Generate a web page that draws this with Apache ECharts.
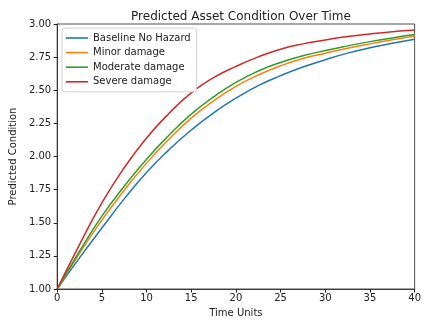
<!DOCTYPE html>
<html>
<head>
<meta charset="utf-8">
<script src="https://cdn.jsdelivr.net/npm/echarts@6/dist/echarts.min.js"></script>
<style>
  html, body { margin: 0; padding: 0; background: #fff; }
  #chart { width: 424px; height: 323px; }
</style>
</head>
<body>
<div id="chart"></div>
<script>
// values
const timeUnits = [0, 2.5, 5, 7.5, 10, 12.5, 15, 17.5, 20, 22.5, 25, 27.5, 30, 32.5, 35, 37.5, 40];
const baseline = [1.00, 1.235, 1.46, 1.68, 1.88, 2.05, 2.20, 2.33, 2.44, 2.535, 2.61, 2.675, 2.73, 2.78, 2.82, 2.855, 2.885];
const minor    = [1.00, 1.27, 1.52, 1.745, 1.95, 2.13, 2.29, 2.42, 2.53, 2.615, 2.685, 2.74, 2.78, 2.817, 2.85, 2.881, 2.91];
const moderate = [1.00, 1.285, 1.55, 1.775, 1.98, 2.16, 2.32, 2.45, 2.56, 2.645, 2.71, 2.76, 2.80, 2.835, 2.867, 2.895, 2.92];
const severe   = [1.00, 1.335, 1.65, 1.915, 2.14, 2.325, 2.48, 2.595, 2.68, 2.752, 2.81, 2.85, 2.88, 2.905, 2.925, 2.942, 2.955];

const seriesNames = ['Baseline No Hazard', 'Minor damage', 'Moderate damage', 'Severe damage'];
const seriesColors = ['#1f77b4', '#ff7f0e', '#2ca02c', '#d62728'];
const seriesValues = [baseline, minor, moderate, severe];

const font = 'DejaVu Sans';

let chart = echarts.init(document.getElementById('chart'));

let option = {
    animation: false,
    title: {
        text: 'Predicted Asset Condition Over Time',
        left: 236,
        textAlign: 'center',
        top: 6,
        textStyle: { fontFamily: font, fontSize: 12, fontWeight: 'normal', color: '#222' }
    },
    legend: {
        orient: 'vertical',
        left: 62,
        top: 28,
        padding: [5, 6, 5, 4],
        itemGap: 4.6,
        itemWidth: 22,
        itemHeight: 1.6,
        icon: 'rect',
        backgroundColor: '#fff',
        borderColor: '#d0d0d0',
        borderWidth: 1,
        borderRadius: 3,
        textStyle: { fontFamily: font, fontSize: 10, color: '#222', lineHeight: 10 },
        data: seriesNames
    },
    grid: {
        left: 57, right: 9, top: 24, bottom: 31,
        show: true,
        borderColor: '#222',
        borderWidth: 0.8,
        containLabel: false
    },
    xAxis: {
        type: 'value',
        min: 0, max: 40, interval: 5,
        name: 'Time Units',
        nameLocation: 'middle',
        nameGap: 19,
        nameTextStyle: { fontFamily: font, fontSize: 10, color: '#222' },
        splitLine: { show: false },
        axisLine: { lineStyle: { color: '#222', width: 0.8 } },
        axisTick: { length: 3.5, lineStyle: { color: '#222' } },
        axisLabel: { margin: 4, fontFamily: font, fontSize: 10, color: '#222' }
    },
    yAxis: {
        type: 'value',
        min: 1, max: 3, interval: 0.25,
        name: 'Predicted Condition',
        nameLocation: 'middle',
        nameGap: 36,
        nameTextStyle: { fontFamily: font, fontSize: 10, color: '#222' },
        splitLine: { show: false },
        axisLine: { show: true, lineStyle: { color: '#222', width: 0.8 } },
        axisTick: { show: true, length: 3.5, lineStyle: { color: '#222' } },
        axisLabel: {
            margin: 6, fontFamily: font, fontSize: 10, color: '#222',
            formatter: function (v) { return v.toFixed(2); }
        }
    },
    series: seriesNames.map(function (name, i) {
        return {
            name: name,
            type: 'line',
            smooth: 0.5,
            symbol: 'none',
            color: seriesColors[i],
            lineStyle: { width: 1.5 },
            data: timeUnits.map(function (t, j) { return [t, seriesValues[i][j]]; })
        };
    })
};

chart.setOption(option);
</script>
</body>
</html>
